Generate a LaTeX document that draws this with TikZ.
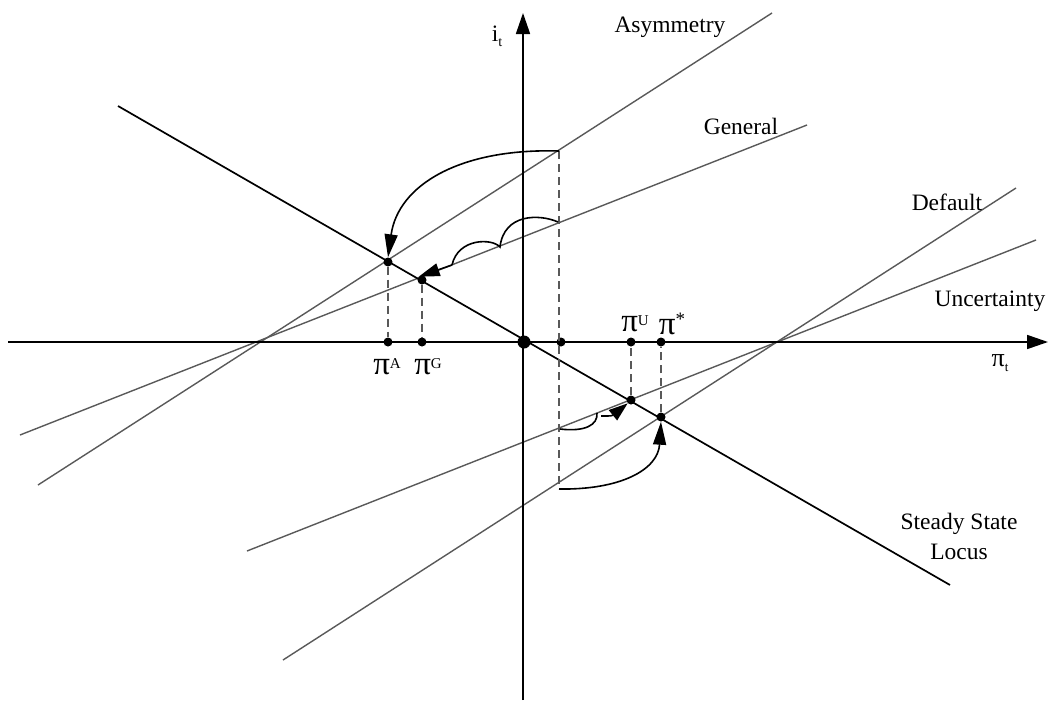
\documentclass[tikz,border=0pt]{standalone}
\usepackage{fontspec}
\setmainfont{Liberation Serif}
\usetikzlibrary{arrows.meta}
\begin{document}
\begin{tikzpicture}[x=1pt,y=-1pt,
  axis/.style={line width=1.7pt,black},
  schedule/.style={line width=1.4pt,black!65},
  locusline/.style={line width=1.7pt,black},
  guide/.style={line width=1.2pt,black!65,dash pattern=on 8pt off 5pt},
  dot/.style={circle,fill=black,inner sep=0pt,minimum size=9pt},
  bigdot/.style={circle,fill=black,inner sep=0pt,minimum size=13pt},
  move/.style={line width=1.6pt,black},
  lbl/.style={font=\fontsize{23.5}{27}\selectfont,inner sep=0pt},
  pilbl/.style={font=\fontsize{33}{34}\selectfont,inner sep=0pt},
  axtip/.style={-{Triangle[length=21pt,width=14pt]}},
  mvtip/.style={-{Triangle[length=23pt,width=13pt]}}
]
\useasboundingbox (0,0) rectangle (1053,702);
% axis end points
\coordinate (xl) at (8,342);
\coordinate (xr) at (1048,342);
\coordinate (yb) at (523,700);
\coordinate (yt) at (523,13);
% schedule end points
\coordinate (as1) at (38,485);  \coordinate (as2) at (772,13);
\coordinate (ge1) at (20,435);  \coordinate (ge2) at (807,125);
\coordinate (de1) at (283,660); \coordinate (de2) at (1016,188);
\coordinate (un1) at (247,551); \coordinate (un2) at (1036,240);
\coordinate (lo1) at (118,106); \coordinate (lo2) at (950,585);
% schedules
\draw[schedule] (as1) -- (as2);
\draw[schedule] (ge1) -- (ge2);
\draw[schedule] (de1) -- (de2);
\draw[schedule] (un1) -- (un2);
\draw[locusline] (lo1) -- (lo2);
% axes
\draw[axis,axtip] (xl) -- (xr);
\draw[axis,axtip] (yb) -- (yt);
% points
\node[dot] (A) at (388,262) {};
\node[dot] (G) at (422,280) {};
\node[dot] (U) at (631,400) {};
\node[dot] (S) at (661,417) {};
\node[dot] (Ax) at (388,342) {};
\node[dot] (Gx) at (422,342) {};
\node[dot] (Ux) at (631,342) {};
\node[dot] (Sx) at (661,342) {};
\node[dot] (Px) at (561,342) {};
\node[bigdot] (O) at (524,342) {};
\coordinate (dt) at (559,151);
\coordinate (db) at (559,489);
% guides
\draw[guide] (A) -- (Ax);
\draw[guide] (G) -- (Gx);
\draw[guide] (U) -- (Ux);
\draw[guide] (S) -- (Sx);
\draw[guide] (dt) -- (db);
% moves
\coordinate (g0) at (558,222);
\coordinate (g1) at (500,247);
\coordinate (g2) at (452,265);
\coordinate (u0) at (560,429);
\coordinate (u1) at (597,413);
\coordinate (u2) at (601,416);
\draw[move,mvtip] (dt) .. controls (460,148) and (398,185) .. (A.north);
\draw[move] (g0) .. controls (540,214) and (504,213) .. (g1)
                 .. controls (492,238) and (458,238) .. (g2);
\draw[move,-{Triangle[length=21pt,width=13pt]}] (g2) -- (G.north west);
\draw[move] (u0) .. controls (585,432) and (598,425) .. (u1);
\draw[move,-{Triangle[length=19pt,width=13pt]}] (u2) .. controls (612,416) .. (U.south west);
\draw[move,mvtip] (db) .. controls (620,490) and (658,470) .. (S.south);
% labels
\node[lbl] (tA) at (670,27) {Asymmetry};
\node[lbl] (tG) at (741,126) {General};
\node[lbl] (tD) at (947,202) {Default};
\node[lbl] (tU) at (990,301) {Uncertainty};
\node[lbl,align=center,font=\fontsize{23.5}{30}\selectfont] (tL) at (959,536) {Steady State\\Locus};
\node[lbl] (tit) at (497,36) {i\raisebox{-5pt}{\fontsize{14}{14}\selectfont t}};
\node[lbl,font=\fontsize{26}{27}\selectfont] (tpt) at (1000,363) {π\raisebox{-5pt}{\fontsize{13}{13}\selectfont t}};
\node[pilbl] (lA) at (387,367) {π\raisebox{6pt}{\fontsize{15}{15}\selectfont A}};
\node[pilbl] (lG) at (428,367) {π\raisebox{6pt}{\fontsize{15}{15}\selectfont G}};
\node[pilbl] (lU) at (635,324) {π\raisebox{6pt}{\fontsize{15}{15}\selectfont U}};
\node[pilbl] (lS) at (672,324) {π\raisebox{9pt}{\fontsize{19}{19}\selectfont *}};
\end{tikzpicture}
\end{document}
